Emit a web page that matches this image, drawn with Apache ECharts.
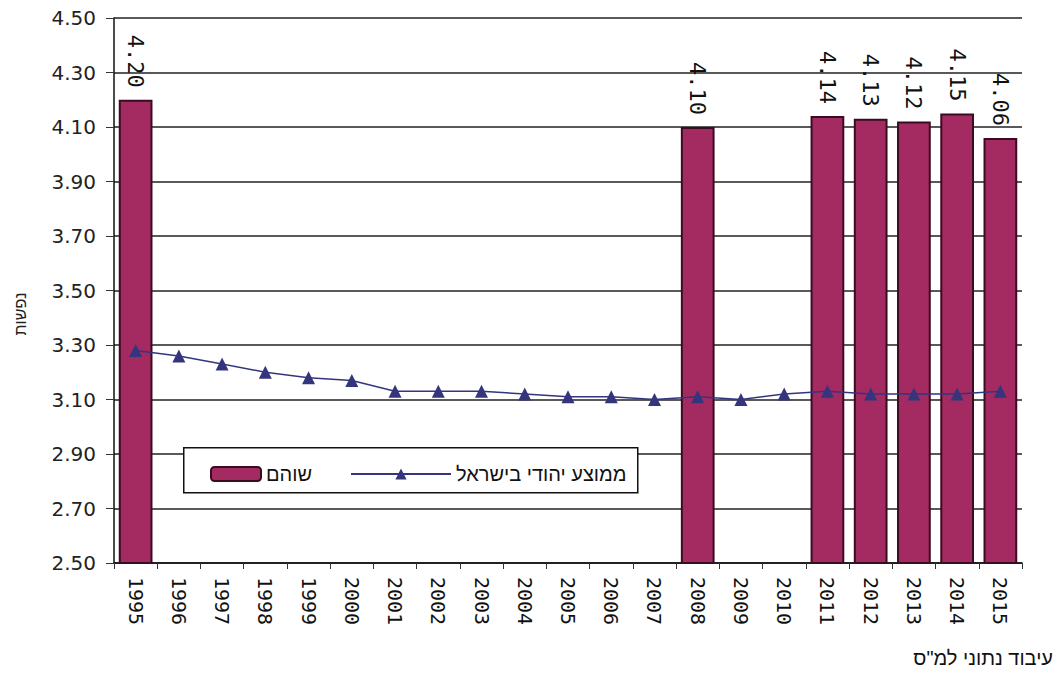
<!DOCTYPE html>
<html>
<head>
<meta charset="utf-8">
<script src="https://cdn.jsdelivr.net/npm/echarts@6/dist/echarts.min.js"></script>
<style>
  html, body { margin: 0; padding: 0; background: #fff; }
  #chart { width: 1062px; height: 674px; }
</style>
</head>
<body>
<div id="chart"></div>
<script>
// Household size (persons) by year
const years = ['1995','1996','1997','1998','1999','2000','2001','2002','2003','2004',
               '2005','2006','2007','2008','2009','2010','2011','2012','2013','2014','2015'];
// Shoham – only surveyed years carry a value
const shohamValues = [4.20, null, null, null, null, null, null, null, null, null,
                      null, null, null, 4.10, null, null, 4.14, 4.13, 4.12, 4.15, 4.06];
// Jewish average in Israel
const israelJewishAvg = [3.28, 3.26, 3.23, 3.20, 3.18, 3.17, 3.13, 3.13, 3.13, 3.12,
                         3.11, 3.11, 3.10, 3.11, 3.10, 3.12, 3.13, 3.12, 3.12, 3.12, 3.13];
const yTicks = [2.50, 2.70, 2.90, 3.10, 3.30, 3.50, 3.70, 3.90, 4.10, 4.30, 4.50];

const seriesNames = ['שוהם', 'ממוצע יהודי בישראל'];
const axisName = 'נפשות';
const sourceNote = 'עיבוד נתוני למ"ס';

const barColor = '#a32b61';
const barBorder = '#3a0c20';
const lineColor = '#35357e';
const monoFont = '"DejaVu Sans Mono", monospace';
const hebFont = '"Liberation Sans", "DejaVu Sans", sans-serif';

// SVG output lets the browser lay out the Hebrew right-to-left
const chart = echarts.init(document.getElementById('chart'), null, { renderer: 'svg' });

chart.setOption({
  backgroundColor: '#ffffff',
  animation: false,
  title: {
    text: sourceNote,
    right: 4,
    bottom: 1,
    textStyle: { fontFamily: hebFont, fontSize: 20, fontWeight: 'normal', color: '#111' }
  },
  grid: { left: 114, right: 40, top: 18, bottom: 111, containLabel: false },
  legend: [
    {
      data: [seriesNames[0]],
      left: 205, top: 459,
      itemWidth: 50, itemHeight: 14,
      textStyle: { fontFamily: hebFont, fontSize: 20, color: '#111' },
      z: 6
    },
    {
      data: [seriesNames[1]],
      left: 345, top: 459,
      itemWidth: 100, itemHeight: 14,
      textStyle: { fontFamily: hebFont, fontSize: 20, color: '#111' },
      z: 6
    }
  ],
  graphic: [
    {
      // legend frame
      type: 'rect',
      left: 183, top: 447,
      shape: { width: 454, height: 45 },
      style: { fill: '#ffffff', stroke: '#111', lineWidth: 1.5 },
      z: 5
    },
    {
      // value-axis title, turned to run along the axis
      type: 'text',
      x: 20, y: 314,
      rotation: Math.PI / 2,
      style: {
        text: axisName,
        fontFamily: hebFont,
        fontSize: 16,
        fill: '#222',
        align: 'center',
        verticalAlign: 'middle'
      }
    }
  ],
  xAxis: {
    type: 'category',
    data: years,
    boundaryGap: true,
    axisLine: { lineStyle: { color: '#111', width: 1.5 } },
    axisTick: { show: true, alignWithLabel: false, length: 6, lineStyle: { color: '#333' } },
    axisLabel: {
      rotate: -90,
      interval: 0,
      margin: 14,
      fontFamily: monoFont,
      fontSize: 20,
      color: '#111'
    }
  },
  yAxis: {
    type: 'value',
    min: 2.5,
    max: 4.5,
    axisLine: { show: true, lineStyle: { color: '#111', width: 1.5 } },
    axisTick: { show: true, length: 8, customValues: yTicks, lineStyle: { color: '#333' } },
    axisLabel: {
      customValues: yTicks,
      formatter: v => v.toFixed(2),
      margin: 18,
      fontFamily: '"DejaVu Sans", sans-serif',
      fontSize: 20,
      color: '#222'
    },
    splitLine: { show: true, lineStyle: { color: '#222', width: 1.5 } }
  },
  series: [
    {
      name: seriesNames[0],
      type: 'bar',
      data: shohamValues,
      barWidth: '78%',
      z: 2,
      itemStyle: { color: barColor, borderColor: barBorder, borderWidth: 2 },
      label: {
        show: true,
        position: 'top',
        distance: 12,
        rotate: -90,
        align: 'right',
        verticalAlign: 'middle',
        formatter: p => p.value.toFixed(2),
        fontFamily: monoFont,
        fontSize: 22,
        color: '#111'
      }
    },
    {
      name: seriesNames[1],
      type: 'line',
      data: israelJewishAvg,
      z: 3,
      symbol: 'triangle',
      symbolSize: 13,
      lineStyle: { color: lineColor, width: 1.5 },
      itemStyle: { color: lineColor }
    }
  ]
});
</script>
</body>
</html>
